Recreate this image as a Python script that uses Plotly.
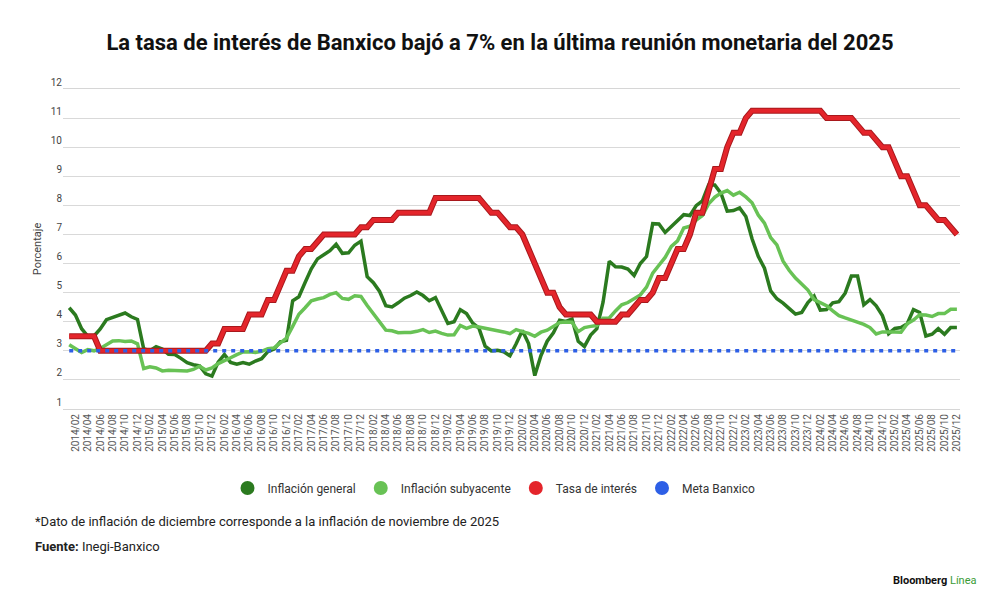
import plotly.graph_objects as go

# Meses de la serie (2014/01 - 2025/12) y etiquetas del eje x cada dos meses
MESES = [f"{a}/{m:02d}" for a in range(2014, 2026) for m in range(1, 13)]
ETIQUETAS_X = MESES[1::2]
TICKS_Y = [1, 2, 3, 4, 5, 6, 7, 8, 9, 10, 11, 12]

# Inflación general anual (%)
inflacion_general = [
    4.48, 4.23, 3.76, 3.50, 3.51, 3.75, 4.07, 4.15, 4.22, 4.30, 4.17, 4.08,  # 2014
    3.07, 3.00, 3.14, 3.06, 2.88, 2.87, 2.74, 2.59, 2.52, 2.48, 2.21, 2.13,  # 2015
    2.61, 2.87, 2.60, 2.54, 2.60, 2.54, 2.65, 2.73, 2.97, 3.06, 3.31, 3.36,  # 2016
    4.72, 4.86, 5.35, 5.82, 6.16, 6.31, 6.44, 6.66, 6.35, 6.37, 6.63, 6.77,  # 2017
    5.55, 5.34, 5.04, 4.55, 4.51, 4.65, 4.81, 4.90, 5.02, 4.90, 4.72, 4.83,  # 2018
    4.37, 3.94, 4.00, 4.41, 4.28, 3.95, 3.78, 3.16, 3.00, 3.02, 2.97, 2.83,  # 2019
    3.24, 3.70, 3.25, 2.15, 2.84, 3.33, 3.62, 4.05, 4.01, 4.09, 3.33, 3.15,  # 2020
    3.54, 3.76, 4.67, 6.08, 5.89, 5.88, 5.81, 5.59, 6.00, 6.24, 7.37, 7.36,  # 2021
    7.07, 7.28, 7.45, 7.68, 7.65, 7.99, 8.15, 8.70, 8.70, 8.41, 7.80, 7.82,  # 2022
    7.91, 7.62, 6.85, 6.25, 5.84, 5.06, 4.79, 4.64, 4.45, 4.26, 4.32, 4.66,  # 2023
    4.88, 4.40, 4.42, 4.65, 4.69, 4.98, 5.57, 5.57, 4.58, 4.76, 4.55, 4.21,  # 2024
    3.59, 3.77, 3.80, 3.93, 4.42, 4.32, 3.51, 3.57, 3.76, 3.57, 3.80, 3.80,  # 2025
]

# Inflación subyacente anual (%)
inflacion_subyacente = [
    3.21, 3.07, 2.94, 3.04, 3.00, 3.08, 3.20, 3.34, 3.35, 3.32, 3.34, 3.24,  # 2014
    2.39, 2.45, 2.41, 2.31, 2.33, 2.33, 2.31, 2.31, 2.36, 2.47, 2.34, 2.41,  # 2015
    2.56, 2.65, 2.76, 2.87, 2.96, 2.97, 2.94, 2.98, 3.07, 3.10, 3.29, 3.44,  # 2016
    3.84, 4.26, 4.48, 4.72, 4.78, 4.83, 4.94, 5.00, 4.80, 4.77, 4.89, 4.87,  # 2017
    4.56, 4.27, 4.02, 3.71, 3.69, 3.62, 3.63, 3.63, 3.67, 3.73, 3.63, 3.68,  # 2018
    3.60, 3.54, 3.55, 3.87, 3.77, 3.85, 3.82, 3.78, 3.75, 3.68, 3.65, 3.59,  # 2019
    3.73, 3.66, 3.60, 3.50, 3.64, 3.71, 3.85, 3.97, 3.99, 3.98, 3.66, 3.80,  # 2020
    3.84, 3.87, 4.12, 4.13, 4.37, 4.58, 4.66, 4.78, 4.92, 5.19, 5.67, 5.94,  # 2021
    6.21, 6.59, 6.78, 7.22, 7.28, 7.49, 7.65, 8.05, 8.28, 8.42, 8.51, 8.35,  # 2022
    8.45, 8.29, 8.09, 7.67, 7.39, 6.89, 6.64, 6.08, 5.76, 5.50, 5.30, 5.09,  # 2023
    4.76, 4.64, 4.55, 4.37, 4.21, 4.13, 4.05, 4.00, 3.91, 3.80, 3.58, 3.65,  # 2024
    3.66, 3.65, 3.64, 3.93, 4.06, 4.24, 4.23, 4.18, 4.28, 4.28, 4.43, 4.43,  # 2025
]

# Tasa de interés objetivo de Banxico (%)
tasa_interes = [
    3.50, 3.50, 3.50, 3.50, 3.50, 3.00, 3.00, 3.00, 3.00, 3.00, 3.00, 3.00,  # 2014
    3.00, 3.00, 3.00, 3.00, 3.00, 3.00, 3.00, 3.00, 3.00, 3.00, 3.00, 3.25,  # 2015
    3.25, 3.75, 3.75, 3.75, 3.75, 4.25, 4.25, 4.25, 4.75, 4.75, 5.25, 5.75,  # 2016
    5.75, 6.25, 6.50, 6.50, 6.75, 7.00, 7.00, 7.00, 7.00, 7.00, 7.00, 7.25,  # 2017
    7.25, 7.50, 7.50, 7.50, 7.50, 7.75, 7.75, 7.75, 7.75, 7.75, 7.75, 8.25,  # 2018
    8.25, 8.25, 8.25, 8.25, 8.25, 8.25, 8.25, 8.00, 7.75, 7.75, 7.50, 7.25,  # 2019
    7.25, 7.00, 6.50, 6.00, 5.50, 5.00, 5.00, 4.50, 4.25, 4.25, 4.25, 4.25,  # 2020
    4.25, 4.00, 4.00, 4.00, 4.00, 4.25, 4.25, 4.50, 4.75, 4.75, 5.00, 5.50,  # 2021
    5.50, 6.00, 6.50, 6.50, 7.00, 7.75, 7.75, 8.50, 9.25, 9.25, 10.00, 10.50,  # 2022
    10.50, 11.00, 11.25, 11.25, 11.25, 11.25, 11.25, 11.25, 11.25, 11.25, 11.25, 11.25,  # 2023
    11.25, 11.25, 11.00, 11.00, 11.00, 11.00, 11.00, 10.75, 10.50, 10.50, 10.25, 10.00,  # 2024
    10.00, 9.50, 9.00, 9.00, 8.50, 8.00, 8.00, 7.75, 7.50, 7.50, 7.25, 7.00,  # 2025
]

# Meta de inflación de Banxico (%)
meta_x = ["2014/01", "2025/12"]
meta_y = [3.0, 3.0]

VERDE_OSCURO = "#2b7a1f"
VERDE_CLARO = "#68c255"
ROJO = "#e4252b"
ROJO_BORDE = "#a8181c"
AZUL = "#2d5fe6"

FUENTE = "Roboto, Arial, sans-serif"

# área del gráfico en píxeles (para ubicar textos en coordenadas paper)
IZQ, DER, ARR, ABA = 63, 960, 89, 409


def px_x(x):
    return (x - IZQ) / (DER - IZQ)


def px_y(y):
    return (ABA - y) / (ABA - ARR)


fig = go.Figure()

fig.add_trace(go.Scatter(
    x=MESES, y=inflacion_general, mode="lines", name="Inflación general",
    line=dict(color=VERDE_OSCURO, width=3.5), showlegend=False,
))
fig.add_trace(go.Scatter(
    x=MESES, y=inflacion_subyacente, mode="lines", name="Inflación subyacente",
    line=dict(color=VERDE_CLARO, width=3.5), showlegend=False,
))
# la tasa lleva un borde oscuro
fig.add_trace(go.Scatter(
    x=MESES, y=tasa_interes, mode="lines", hoverinfo="skip",
    line=dict(color=ROJO_BORDE, width=6), showlegend=False,
))
fig.add_trace(go.Scatter(
    x=MESES, y=tasa_interes, mode="lines", name="Tasa de interés",
    line=dict(color=ROJO, width=4), showlegend=False,
))
fig.add_trace(go.Scatter(
    x=meta_x, y=meta_y, mode="lines", name="Meta Banxico",
    line=dict(color=AZUL, width=3.5, dash="4px,5px"), showlegend=False,
))

# entradas de la leyenda con círculos
for nombre, color in [("Inflación general", VERDE_OSCURO),
                      ("Inflación subyacente", VERDE_CLARO),
                      ("Tasa de interés", ROJO),
                      ("Meta Banxico", AZUL)]:
    fig.add_trace(go.Scatter(
        x=[None], y=[None], mode="markers", name=nombre,
        marker=dict(size=14, color=color, symbol="circle"),
    ))

fig.update_layout(
    width=1000,
    height=608,
    margin=dict(l=IZQ, r=1000 - DER, t=ARR, b=608 - ABA),
    paper_bgcolor="white",
    plot_bgcolor="white",
    font=dict(family=FUENTE, color="#333333", size=11),
    title=dict(
        text="<b>La tasa de interés de Banxico bajó a 7% en la última reunión monetaria del 2025</b>",
        x=0.5, xanchor="center", xref="container",
        y=1 - 42 / 608, yanchor="middle", yref="container",
        font=dict(size=22, color="#111111", family=FUENTE),
    ),
    xaxis=dict(
        type="category",
        categoryorder="array",
        categoryarray=MESES,
        range=[-1, 143.5],
        tickmode="array",
        tickvals=ETIQUETAS_X,
        ticktext=ETIQUETAS_X,
        tickangle=-90,
        tickfont=dict(size=10, color="#555555"),
        showgrid=False,
        showline=True,
        linecolor="#d6d6d6",
        linewidth=1,
        mirror=True,
        ticks="",
        zeroline=False,
    ),
    yaxis=dict(
        range=[1, 12],
        tickmode="array",
        tickvals=TICKS_Y,
        ticklabelposition="outside top",
        tickfont=dict(size=10, color="#444444"),
        showgrid=True,
        gridcolor="#d9d9d9",
        gridwidth=1,
        zeroline=False,
        ticks="",
        title=dict(text="Porcentaje", font=dict(size=11, color="#444444"), standoff=6),
    ),
    legend=dict(
        orientation="h",
        xref="container", yref="container",
        x=0.494, xanchor="center",
        y=1 - 488 / 608, yanchor="middle",
        font=dict(size=12, color="#333333"),
        itemclick=False,
        traceorder="normal",
    ),
    annotations=[
        dict(
            text="*Dato de inflación de diciembre corresponde a la inflación de noviembre de 2025",
            xref="paper", yref="paper",
            x=px_x(33), xanchor="left",
            y=px_y(521), yanchor="middle",
            showarrow=False, font=dict(size=13, color="#222222"),
        ),
        dict(
            text="<b>Fuente:</b> Inegi-Banxico",
            xref="paper", yref="paper",
            x=px_x(33), xanchor="left",
            y=px_y(546), yanchor="middle",
            showarrow=False, font=dict(size=13, color="#222222"),
        ),
        dict(
            text="<b>Bloomberg</b> <span style='color:#3a9b35'>Línea</span>",
            xref="paper", yref="paper",
            x=px_x(979), xanchor="right",
            y=px_y(580), yanchor="middle",
            showarrow=False, font=dict(size=11, color="#111111"),
        ),
    ],
)

# quitar el margen del body para que la figura ocupe la ventana
fig.write_html(
    "out.html",
    config={"displayModeBar": False},
    post_script="document.body.style.margin='0';",
)
